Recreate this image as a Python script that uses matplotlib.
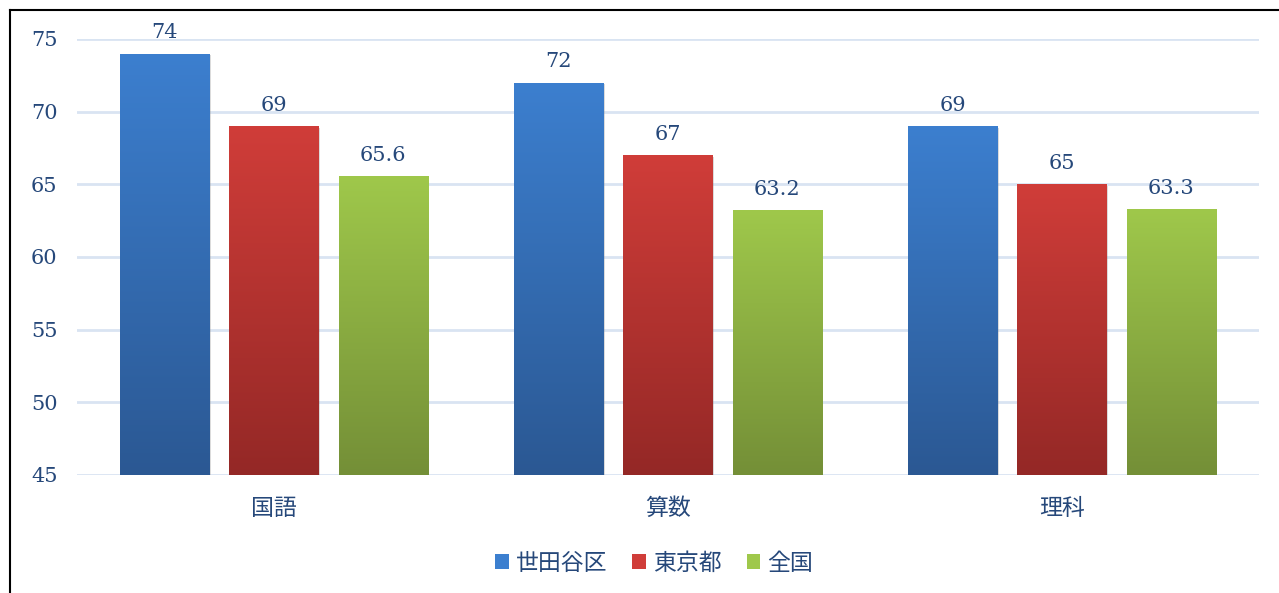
import numpy as np
import matplotlib
matplotlib.use('Agg')
import matplotlib.pyplot as plt
import matplotlib.patheffects as pe
from matplotlib.colors import LinearSegmentedColormap
from matplotlib.lines import Line2D
from matplotlib.patches import Patch

subjects = ['国語', '算数', '理科']
series = ['世田谷区', '東京都', '全国']
setagaya = [74, 72, 69]
tokyo = [69, 67, 65]
zenkoku = [65.6, 63.2, 63.3]
yticks = [45, 50, 55, 60, 65, 70, 75]

values = [setagaya, tokyo, zenkoku]
# (top, bottom) colours for the vertical gradient of each series
grads = [('#3c7fcf', '#2b5893'), ('#d03d39', '#942826'), ('#9fc84b', '#748f37')]

txt = '#26487a'
jp = ['Noto Sans CJK JP', 'DejaVu Sans']
num = ['DejaVu Serif']

fig = plt.figure(figsize=(12.79, 5.93), dpi=100)
ax = fig.add_axes([77 / 1279, 1 - 475 / 593, 1182 / 1279, 436 / 593])

x = np.arange(len(subjects))
width = 0.226
step = 0.277
ymin, ymax = 45, 75

for i, (vals, (c_top, c_bot)) in enumerate(zip(values, grads)):
    bars = ax.bar(x + (i - 1) * step, vals, width, color=c_top, zorder=2)
    cmap = LinearSegmentedColormap.from_list('g%d' % i, [c_bot, c_top])
    grad = np.linspace(0, 1, 256).reshape(-1, 1)
    for b, v in zip(bars, vals):
        b.set_path_effects([pe.SimplePatchShadow(offset=(1, -1), shadow_rgbFace='#888888', alpha=0.3),
                            pe.Normal()])
        bx = b.get_x()
        im = ax.imshow(grad, cmap=cmap, aspect='auto', origin='lower',
                       extent=(bx, bx + b.get_width(), ymin, v), zorder=3,
                       interpolation='bicubic')
        im.set_clip_path(b)
        ax.annotate('%g' % v, (bx + b.get_width() / 2, v), xytext=(0, 8),
                    textcoords='offset points', ha='center', va='bottom',
                    fontsize=15, color=txt, family=num, zorder=4)

ax.set_xlim(-0.5, len(subjects) - 0.5)
ax.set_ylim(ymin, ymax)
ax.set_yticks(yticks)
ax.set_yticklabels([str(t) for t in yticks], family=num, fontsize=15, color=txt)
ax.set_xticks(x)
ax.set_xticklabels(subjects, family=jp, fontsize=16.5, color=txt)
ax.tick_params(axis='both', length=0)
ax.tick_params(axis='y', pad=14)
ax.tick_params(axis='x', pad=16)
ax.yaxis.grid(True, color='#d9e4f2', linewidth=2, zorder=0)
ax.set_axisbelow(True)
for s in ax.spines.values():
    s.set_visible(False)

handles = [Patch(facecolor=c[0], edgecolor='none') for c in grads]
leg = fig.legend(handles, series, loc='center', bbox_to_anchor=(654 / 1279, 1 - 563 / 593),
                 ncol=3, frameon=False, prop={'family': jp, 'size': 16.5},
                 handlelength=0.6, handleheight=0.6, handletextpad=0.3,
                 columnspacing=1.1)
for t in leg.get_texts():
    t.set_color(txt)

# outer frame (top and left edges visible)
fig.add_artist(Line2D([10 / 1279, 1], [1 - 10 / 593, 1 - 10 / 593],
                      transform=fig.transFigure, color='black', linewidth=1.5))
fig.add_artist(Line2D([10 / 1279, 10 / 1279], [0, 1 - 10 / 593],
                      transform=fig.transFigure, color='black', linewidth=1.5))

fig.savefig('out.png', dpi=100)
